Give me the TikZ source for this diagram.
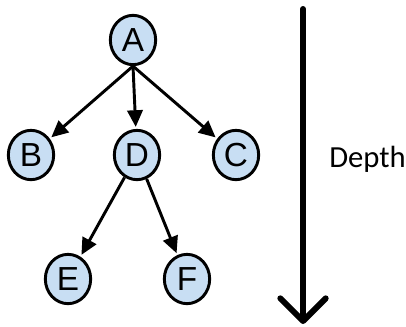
\documentclass[tikz,border=0pt]{standalone}
\usepackage{fontspec}
\setmainfont{Liberation Sans}
\newfontfamily\depthfont{Carlito}
\usetikzlibrary{arrows.meta,shapes.geometric}
\definecolor{nodefill}{RGB}{200,222,243}
\definecolor{ink}{RGB}{0,0,0}

\begin{document}
\begin{tikzpicture}[
  x=0.75pt, y=-0.75pt,
  vert/.style={ellipse, draw=ink, fill=nodefill, line width=2.2pt,
               minimum width=34pt, minimum height=37pt, inner sep=0pt,
               font=\fontsize{25}{25}\selectfont},
  ar/.style={-{Triangle[length=12.5pt,width=11.5pt]}, ink, line width=2.2pt},
  deep/.style={-{Straight Barb[length=17pt,width=34pt,round]}, ink,
               line width=4.5pt, line cap=round},
]

\useasboundingbox (0,0) rectangle (406,326);

% ---- tree ----
\node[vert] (A) at (133,40)  {A};
\node[vert] (B) at (31,155)  {B};
\node[vert] (D) at (137,155) {D};
\node[vert] (C) at (236,155) {C};
\node[vert] (E) at (68,279)  {E};
\node[vert] (F) at (187,279) {F};

\foreach \n in {B,D,C}{\draw[ar, shorten >=1.5pt] (A.south) -- (\n);}
\foreach \n in {E,F}{\draw[ar, shorten >=1.5pt] (D) -- (\n);}

% ---- depth arrow ----
\coordinate (top) at (303,9);
\coordinate (bottom) at (303,324);
\draw[deep] (top) -- (bottom);
\node[anchor=base west, font=\depthfont\fontsize{23}{23}\selectfont, text=ink,
      inner sep=0pt] (lbl) at (329,167) {Depth};

\end{tikzpicture}
\end{document}
